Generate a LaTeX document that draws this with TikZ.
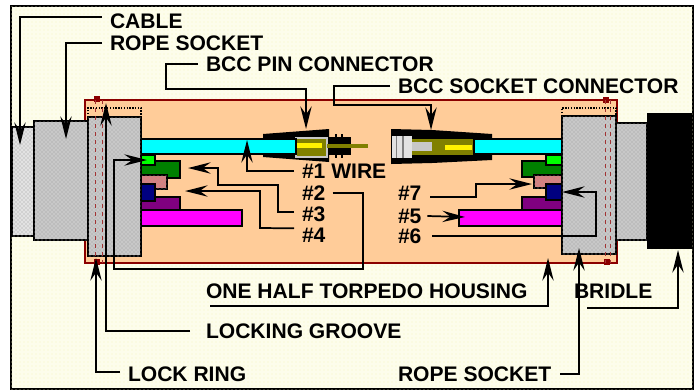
\documentclass[tikz,border=0pt]{standalone}
\usepackage{fontspec}
\setmainfont{Liberation Sans}
\usetikzlibrary{arrows.meta,patterns}
\definecolor{paper}{HTML}{FDFDEB}
\definecolor{paperdot}{HTML}{F6F6C4}
\definecolor{housing}{HTML}{FFCC99}
\definecolor{maroon}{HTML}{8B0000}
\definecolor{wirecyan}{HTML}{00FFFF}
\definecolor{wirelime}{HTML}{00FF00}
\definecolor{wiregreen}{HTML}{008000}
\definecolor{wirepink}{HTML}{D98080}
\definecolor{wirenavy}{HTML}{000080}
\definecolor{wirepurple}{HTML}{800080}
\definecolor{wiremag}{HTML}{FF00FF}
\definecolor{olive}{HTML}{808000}
\definecolor{steelgray}{HTML}{C8C8C8}
\definecolor{cablegray}{HTML}{E2E2E2}
\tikzset{
  part/.style={draw=black,line width=1.4pt,fill=#1},
  dither/.style={draw=black,line width=1.4pt,fill=#1,
                 postaction={pattern=crosshatch dots,pattern color=black!40}},
  redline/.style={draw=maroon!80,dashed,line width=0.7pt},
  lbl/.style={font=\fontsize{15.8}{17}\selectfont\bfseries,anchor=west,
              inner sep=0pt,outer xsep=6pt,text=black},
  lead/.style={draw=black,line width=1.3pt},
  arr/.style={lead,-{Stealth[length=17pt,width=8.5pt,inset=6pt]}},
}
\begin{document}
\begin{tikzpicture}[x=0.75pt,y=-0.75pt]
  \useasboundingbox (0,0) rectangle (695,390);
  \fill[white] (0,0) rectangle (695,390);
  \draw[line width=1.1pt,fill=paper,postaction={pattern=dots,pattern color=paperdot}]
    (11,6) rectangle (693,389);

  % housing
  \draw[draw=maroon,line width=1.3pt,fill=housing] (85,100) rectangle (617,263);
  \fill[maroon] (94,96) rectangle (100,102);
  \fill[maroon] (94,259) rectangle (100,265);
  \fill[maroon] (603,97) rectangle (609,103);
  \fill[maroon] (604,259) rectangle (610,265);

  % pin connector
  \fill[black] (263,134) -- (329,129) -- (329,162) -- (263,157) -- cycle;
  \draw[draw=steelgray,line width=0.8pt,fill=olive] (296,138) rectangle (327,157);
  \fill[yellow] (297,143) rectangle (322,148);
  \fill[black] (329,137) rectangle (351,155);
  \fill[black] (335,134) rectangle (337,158);
  \fill[black] (341,134) rectangle (343,158);
  \fill[olive] (327,144) rectangle (368,148);

  % socket connector
  \fill[black] (391,129) -- (432,130) -- (492,134) -- (492,160) -- (432,163) -- (391,164) -- cycle;
  \fill[olive] (412,139) rectangle (474,155);
  \fill[cablegray] (392,136) rectangle (412,158);
  \fill[gray] (396,136) rectangle (397,158);
  \fill[gray] (402,136) rectangle (404,158);
  \fill[steelgray] (412,142) rectangle (432,151);
  \fill[yellow] (445,145) rectangle (472,150);

  % left end
  \draw[dither=cablegray] (12,127) rectangle (34,236);
  \draw[dither=steelgray] (34,121) rectangle (88,240);
  \draw[part=wirecyan] (141,139) rectangle (296,154);
  \draw[part=wiregreen] (141,161) rectangle (180,178);
  \draw[part=wirepurple] (141,197) rectangle (180,210);
  \draw[part=wirelime] (141,155) rectangle (155,165);
  \draw[dither=wirepink] (141,175) rectangle (167,189);
  \draw[part=wirenavy] (141,184) rectangle (155,201);
  \draw[part=wiremag] (141,210) rectangle (242,226);
  \draw[dither=steelgray] (88,117) rectangle (141,256);
  \draw[densely dotted,line width=1.1pt] (88,117) -- (88,108) -- (141,108) -- (141,117);
  \draw[redline] (95,100) -- (95,263);
  \draw[redline] (102,100) -- (102,263);

  % right end
  \draw[part=wirecyan] (474,139) rectangle (562,154);
  \draw[part=wiregreen] (522,161) rectangle (562,177);
  \draw[part=wirepurple] (522,197) rectangle (562,210);
  \draw[part=wirelime] (546,155) rectangle (562,165);
  \draw[dither=wirepink] (534,175) rectangle (562,188);
  \draw[part=wirenavy] (546,184) rectangle (562,200);
  \draw[part=wiremag] (459,210) rectangle (562,226);
  \draw[dither=steelgray] (616,123) rectangle (647,240);
  \fill[black] (647,113) rectangle (692,249);
  \draw[dither=steelgray] (562,116) rectangle (616,254);
  \draw[densely dotted,line width=1.1pt] (562,116) -- (562,108) -- (616,108) -- (616,116);
  \draw[redline] (605,100) -- (605,263);
  \draw[redline] (610,100) -- (610,263);

  % labels
  \node[lbl] (cable) at (102,21) {CABLE};
  \node[lbl] (ropel) at (102,43) {ROPE SOCKET};
  \node[lbl] (pinconn) at (198,64) {BCC PIN CONNECTOR};
  \node[lbl] (sockconn) at (390,86) {BCC SOCKET CONNECTOR};
  \node[lbl] (wire1) at (294,171) {\#1 WIRE};
  \node[lbl] (wire2) at (294,193) {\#2};
  \node[lbl] (wire3) at (294,214) {\#3};
  \node[lbl] (wire4) at (294,235) {\#4};
  \node[lbl] (wire7) at (390,193) {\#7};
  \node[lbl] (wire5) at (390,216) {\#5};
  \node[lbl] (wire6) at (390,236) {\#6};
  \node[lbl] (torpedo) at (198,291) {ONE HALF TORPEDO HOUSING};
  \node[lbl] (groove) at (198,331) {LOCKING GROOVE};
  \node[lbl] (ring) at (120,374) {LOCK RING};
  \node[lbl] (roper) at (390,374) {ROPE SOCKET};
  \node[lbl] (bridle) at (566,291) {BRIDLE};

  % leaders
  \coordinate (cabletip) at (20,145);
  \coordinate (ropeltip) at (66,139);
  \coordinate (pintip) at (306,129);
  \coordinate (socktip) at (431,130);
  \coordinate (wire1tip) at (247,140);
  \coordinate (wire2tip) at (147,160);
  \coordinate (wire3tip) at (188,168);
  \coordinate (wire4tip) at (185,191);
  \coordinate (wire7tip) at (532,184);
  \coordinate (wire5tip) at (465,217);
  \coordinate (wire6tip) at (562,192);
  \coordinate (torptip) at (548,258);
  \coordinate (groovetip) at (106,103);
  \coordinate (ringtip) at (96,258);
  \coordinate (ropertip) at (579,248);
  \coordinate (bridletip) at (678,250);

  \draw[arr] ([yshift=3pt]cable.west) -| (cabletip);
  \draw[arr] (ropel.west) -| (ropeltip);
  \draw[arr] (pinconn.west) -- (166,64) -- (166,89) -| (pintip);
  \draw[arr] (sockconn.west) -- (334,86) -- (334,105) -| (socktip);
  \draw[arr] (wire1.west) -| (wire1tip);
  \draw[arr] ([xshift=29pt]wire2.west) -- (363,193) -- (363,269) -- (114,269) |- (wire2tip);
  \draw[arr] ([yshift=1.5pt]wire3.west) -- (278,212) -- (278,185) -- (218,185) |- (wire3tip);
  \draw[arr] ([yshift=5pt]wire4.west) -- (260,228) |- (wire4tip);
  \draw[arr] ([xshift=30pt,yshift=-3pt]wire7.west) -- (476,197) -- (476,184) -- (wire7tip);
  \draw[arr] ([xshift=28pt]wire5.west) -- (wire5tip);
  \draw[arr] ([xshift=31.5pt]wire6.west) -- (596,236) |- (wire6tip);
  \draw[arr] ([xshift=9pt,yshift=-11.25pt]torpedo.west) -- (548,306) -- (torptip);
  \draw[arr] ([xshift=-6pt]groove.west) -| (groovetip);
  \draw[arr] ([yshift=1.5pt]ring.west) -| (ringtip);
  \draw[arr] ([xshift=127.5pt]roper.west) -| (ropertip);
  \draw[arr] ([xshift=15.75pt,yshift=-12.75pt]bridle.west) -| (bridletip);
\end{tikzpicture}
\end{document}
